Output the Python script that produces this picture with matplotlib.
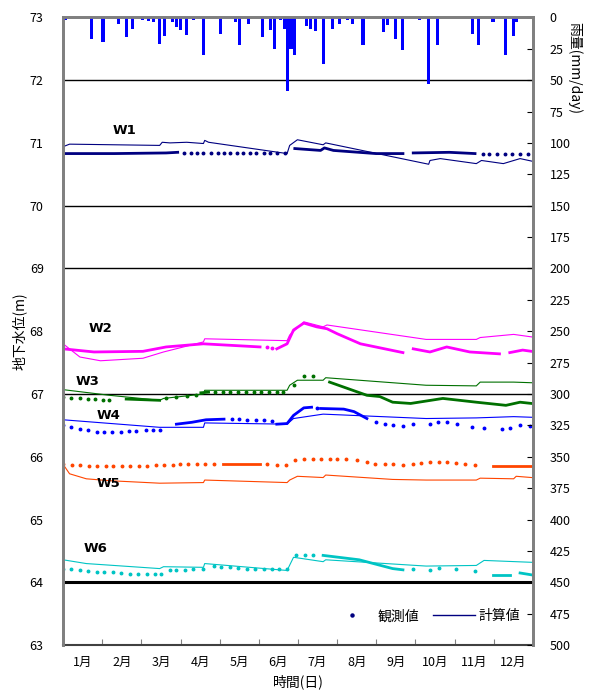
import matplotlib
matplotlib.use("Agg")
import matplotlib.pyplot as plt
from matplotlib.lines import Line2D
import numpy as np

plt.rcParams['font.family'] = ['Noto Sans CJK JP', 'DejaVu Sans']

months = ["1月", "2月", "3月", "4月", "5月", "6月", "7月", "8月", "9月", "10月", "11月", "12月"]

# daily rainfall (day of year, mm/day)
rain_day = [2, 22, 31, 43, 49, 54, 62, 66, 70, 75, 79, 85, 88, 91, 96, 101, 109, 122, 134, 137,
            144, 155, 161, 164, 169, 172, 174, 177, 180, 189, 192, 196, 202, 209, 215, 221, 225,
            233, 249, 252, 258, 264, 277, 284, 291, 318, 323, 334, 344, 350, 352]
rain_mm = [2, 17, 20, 5, 16, 9, 2, 3, 4, 21, 15, 4, 8, 10, 14, 2, 30, 13, 4, 22,
           5, 16, 10, 25, 2, 9, 59, 25, 30, 7, 9, 11, 37, 9, 5, 2, 5,
           22, 12, 6, 17, 26, 2, 53, 22, 13, 22, 4, 30, 15, 4]

# W1
w1_calc_d = [0, 5, 75, 77, 83, 96, 109, 110, 113, 174, 176, 182, 202, 204, 284, 285, 293, 321, 325, 342, 355, 364]
w1_calc_v = [70.94, 70.98, 70.96, 71.01, 71.00, 71.01, 70.99, 71.04, 71.01, 70.83, 70.96, 71.05, 70.97, 71.00,
             70.66, 70.72, 70.75, 70.67, 70.72, 70.67, 70.75, 70.71]
w1_obs_lines = [([0, 40, 80, 89], [70.83, 70.83, 70.84, 70.85]),
                ([180, 200, 203, 210, 243, 264], [70.91, 70.88, 70.92, 70.88, 70.83, 70.83]),
                ([272, 300, 320], [70.84, 70.85, 70.83])]
w1_dot_d = [94, 99, 104, 109, 115, 120, 125, 130, 135, 140, 145, 150, 156, 161, 166, 172,
            326, 331, 337, 343, 349, 355, 361]
w1_dot_v = [70.84] * 16 + [70.83] * 7

# W2
w2_calc_d = [0, 13, 29, 62, 78, 109, 110, 174, 176, 187, 202, 205, 282, 321, 324, 350, 364]
w2_calc_v = [67.80, 67.59, 67.53, 67.57, 67.67, 67.83, 67.88, 67.85, 67.94, 68.15, 68.07, 68.10,
             67.87, 67.87, 67.90, 67.95, 67.91]
w2_obs_lines = [([0, 24, 62, 80, 109, 153], [67.72, 67.67, 67.68, 67.75, 67.80, 67.75]),
                ([166, 174, 179, 187, 197, 205, 213, 231, 264],
                 [67.72, 67.80, 68.02, 68.13, 68.07, 68.04, 67.96, 67.80, 67.66]),
                ([272, 285, 298, 316, 339], [67.72, 67.67, 67.75, 67.67, 67.64]),
                ([347, 357, 364], [67.66, 67.70, 67.68])]
w2_dot_d = [158, 162]
w2_dot_v = [67.75, 67.73]

# W3
w3_calc_d = [0, 36, 75, 78, 109, 110, 174, 176, 182, 202, 204, 282, 321, 324, 350, 364]
w3_calc_v = [67.07, 66.98, 66.90, 66.93, 67.00, 67.06, 67.06, 67.14, 67.22, 67.22, 67.26, 67.14,
             67.13, 67.19, 67.19, 67.18]
w3_obs_lines = [([49, 62, 75], [66.92, 66.91, 66.90]),
                ([107, 113], [67.02, 67.03]),
                ([207, 236, 246, 256, 270, 295, 321, 344, 355, 364],
                 [67.19, 66.98, 66.96, 66.87, 66.85, 66.93, 66.87, 66.82, 66.87, 66.85])]
w3_dot_d = [0, 6, 13, 19, 25, 31, 36, 80, 88, 96, 103, 118, 124, 130, 136, 142, 148, 154, 160, 166,
            171, 179, 187, 194]
w3_dot_v = [66.95, 66.94, 66.93, 66.92, 66.92, 66.91, 66.90, 66.93, 66.95, 66.97, 66.99, 67.03, 67.03,
            67.03, 67.03, 67.03, 67.03, 67.03, 67.03, 67.03, 67.03, 67.15, 67.28, 67.28]

# W4
w4_calc_d = [0, 75, 109, 110, 174, 179, 202, 282, 321, 350, 364]
w4_calc_v = [66.59, 66.47, 66.47, 66.54, 66.52, 66.61, 66.68, 66.61, 66.62, 66.64, 66.63]
w4_obs_lines = [([88, 100, 111, 125], [66.52, 66.55, 66.59, 66.60]),
                ([166, 174, 179, 187, 193], [66.52, 66.53, 66.66, 66.78, 66.79]),
                ([200, 218, 226, 236], [66.77, 66.76, 66.72, 66.61])]
w4_dot_d = [0, 6, 13, 19, 26, 32, 38, 45, 51, 57, 64, 70, 75, 131, 137, 143, 150, 156, 162, 197,
            243, 250, 256, 264, 272, 285, 291, 298, 306, 318, 327, 341, 347, 355, 363]
w4_dot_v = [66.50, 66.47, 66.45, 66.43, 66.40, 66.40, 66.39, 66.40, 66.41, 66.41, 66.42, 66.42, 66.43,
            66.60, 66.60, 66.59, 66.59, 66.58, 66.57, 66.78,
            66.55, 66.52, 66.50, 66.49, 66.52, 66.53, 66.55, 66.56, 66.52, 66.47, 66.46, 66.44,
            66.46, 66.50, 66.49]

# W5
w5_calc_d = [0, 5, 18, 36, 75, 109, 110, 174, 176, 182, 202, 204, 256, 282, 321, 324, 350, 352, 364]
w5_calc_v = [65.88, 65.73, 65.65, 65.62, 65.58, 65.59, 65.63, 65.59, 65.63, 65.69, 65.67, 65.71,
             65.64, 65.63, 65.63, 65.66, 65.65, 65.69, 65.67]
w5_obs_lines = [([124, 153], [65.89, 65.89]),
                ([334, 364], [65.85, 65.85])]
w5_dot_d = [0, 7, 13, 20, 26, 33, 39, 46, 52, 59, 65, 72, 78, 85, 91, 97, 104, 110, 117, 158, 166, 173,
            180, 187, 194, 200, 207, 213, 220, 228, 236, 242, 250, 256, 264, 272, 278, 285, 292, 298,
            305, 312, 320]
w5_dot_v = [65.88, 65.87, 65.87, 65.86, 65.86, 65.86, 65.86, 65.86, 65.86, 65.86, 65.86, 65.87, 65.87,
            65.87, 65.88, 65.88, 65.88, 65.89, 65.89, 65.88, 65.87, 65.87,
            65.95, 65.96, 65.97, 65.96, 65.96, 65.97, 65.97, 65.95, 65.92, 65.89, 65.88, 65.88,
            65.87, 65.89, 65.90, 65.91, 65.91, 65.91, 65.90, 65.89, 65.87]

# W6
w6_calc_d = [0, 18, 75, 78, 109, 110, 174, 179, 202, 204, 282, 321, 327, 364]
w6_calc_v = [64.36, 64.30, 64.22, 64.25, 64.24, 64.30, 64.19, 64.40, 64.33, 64.36, 64.26, 64.27,
             64.35, 64.32]
w6_obs_lines = [([202, 230, 256, 264], [64.43, 64.36, 64.22, 64.20]),
                ([334, 347], [64.11, 64.11]),
                ([355, 364], [64.15, 64.12])]
w6_dot_d = [0, 6, 13, 19, 26, 32, 39, 45, 52, 58, 65, 71, 76, 83, 88, 95, 101, 109, 117, 123, 130,
            136, 143, 149, 156, 162, 168, 174, 181, 188, 194, 272, 285, 292, 305, 320]
w6_dot_v = [64.22, 64.21, 64.19, 64.18, 64.17, 64.17, 64.16, 64.15, 64.14, 64.14, 64.14, 64.14, 64.13,
            64.19, 64.20, 64.20, 64.21, 64.21, 64.26, 64.24, 64.24, 64.23, 64.22, 64.22, 64.21,
            64.21, 64.21, 64.22, 64.43, 64.44, 64.44, 64.21, 64.20, 64.23, 64.21, 64.18]

wells = [
    ("W1", "#000080", w1_calc_d, w1_calc_v, w1_obs_lines, w1_dot_d, w1_dot_v, (48, 71.20)),
    ("W2", "#FF00FF", w2_calc_d, w2_calc_v, w2_obs_lines, w2_dot_d, w2_dot_v, (29, 68.05)),
    ("W3", "#007000", w3_calc_d, w3_calc_v, w3_obs_lines, w3_dot_d, w3_dot_v, (19, 67.20)),
    ("W4", "#0000FF", w4_calc_d, w4_calc_v, w4_obs_lines, w4_dot_d, w4_dot_v, (35, 66.66)),
    ("W5", "#FF4500", w5_calc_d, w5_calc_v, w5_obs_lines, w5_dot_d, w5_dot_v, (35, 65.58)),
    ("W6", "#00C4C4", w6_calc_d, w6_calc_v, w6_obs_lines, w6_dot_d, w6_dot_v, (25, 64.54)),
]

fig = plt.figure(figsize=(6.07, 6.93), dpi=100)
ax = fig.add_axes([0.104, 0.069, 0.774, 0.906])

# horizontal reference lines
for y in [72, 70, 69, 67]:
    ax.axhline(y, color="black", lw=1.0, zorder=1)
ax.axhline(64, color="black", lw=2.2, zorder=1)

for name, col, cd, cv, obs_lines, dd, dv, lab in wells:
    ax.plot(cd, cv, color=col, lw=0.8, zorder=3)
    for od, ov in obs_lines:
        ax.plot(od, ov, color=col, lw=2.0, zorder=2)
    ax.plot(dd, dv, ls="none", marker="o", ms=1.8, color=col, mec=col, zorder=2)
    ax.text(lab[0], lab[1], name, fontsize=9.5, fontweight="bold", ha="center", va="center",
            family=["DejaVu Sans"])

ax.set_xlim(0, 365)
ax.set_ylim(63, 73)
ax.set_yticks(np.arange(63, 74, 1))
ax.tick_params(axis="y", length=0, labelsize=9, pad=14)

bounds = np.linspace(0, 365, 13)
ax.set_xticks(bounds)
ax.set_xticklabels([])
ax.tick_params(axis="x", which="major", direction="in", length=4, color="#808080")
ax.set_xticks((bounds[:-1] + bounds[1:]) / 2, minor=True)
ax.set_xticklabels(months, minor=True, fontsize=9)
ax.tick_params(axis="x", which="minor", length=0, pad=8)

ax.set_ylabel("地下水位(m)", fontsize=10, labelpad=2)
ax.set_xlabel("時間(日)", fontsize=10, labelpad=4)

for s in ["left", "right", "top"]:
    ax.spines[s].set_color("#808080")
    ax.spines[s].set_linewidth(2)
ax.spines["bottom"].set_color("#404040")
ax.spines["bottom"].set_linewidth(1.5)

ax2 = ax.twinx()
ax2.bar(rain_day, rain_mm, width=2.4, color="#0000FF", align="center", zorder=2)
ax2.set_ylim(500, 0)
ax2.set_yticks(np.arange(0, 501, 25))
ax2.tick_params(axis="y", direction="in", length=4, labelsize=9, pad=12)
ax2.set_ylabel("雨量(mm/day)", fontsize=10, rotation=270)
ax2.yaxis.set_label_coords(1.105, 0.92)
for s in ["left", "right", "top"]:
    ax2.spines[s].set_color("#808080")
    ax2.spines[s].set_linewidth(2)
ax2.spines["bottom"].set_visible(False)

handles = [Line2D([], [], ls="none", marker="o", ms=2.2, color="#000080"),
           Line2D([], [], color="#000080", lw=1.0)]
ax.legend(handles, ["観測値", "計算値"], ncol=2, frameon=False, loc="lower right",
          bbox_to_anchor=(1.0, 0.015), fontsize=10, handlelength=3, columnspacing=1.0,
          handletextpad=0.3)

fig.savefig("out.png", dpi=100)
